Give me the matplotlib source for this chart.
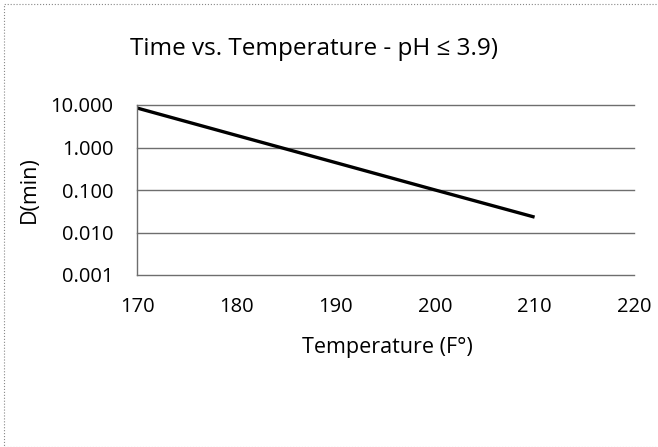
import numpy as np
import matplotlib.pyplot as plt
from matplotlib.ticker import FixedLocator, FixedFormatter
from matplotlib.patches import Rectangle

# data
temps = [170, 180, 190, 200, 210]
d_min = [8.5, 1.93, 0.44, 0.10, 0.023]
yticks = [0.001, 0.01, 0.1, 1, 10]
ylabels = ['0.001', '0.010', '0.100', '1.000', '10.000']
xticks = [170, 180, 190, 200, 210, 220]

plt.rcParams['font.family'] = ['Open Sans', 'DejaVu Sans']

W, H = 658, 447
fig = plt.figure(figsize=(W/100, H/100), dpi=100)
# axes box in pixels: left 137, right 634, top 105, bottom 275
ax = fig.add_axes([137/W, 1 - 275/H, 497/W, 170/H])

ax.plot(temps, d_min, color='black', lw=2.4, solid_capstyle='butt')
ax.set_yscale('log')
ax.set_xlim(170, 220)
ax.set_ylim(0.001, 10)
ax.yaxis.set_major_locator(FixedLocator(yticks))
ax.yaxis.set_major_formatter(FixedFormatter(ylabels))
ax.yaxis.set_minor_locator(FixedLocator([]))
ax.set_xticks(xticks)
ax.tick_params(length=0, labelsize=14.5)
ax.tick_params(axis='x', pad=16)
ax.tick_params(axis='y', pad=17)
ax.grid(axis='y', color='#6e6e6e', lw=1.0)
for gl in ax.get_ygridlines():
    gl.set_clip_on(False)
for s in ['top', 'right', 'bottom']:
    ax.spines[s].set_visible(False)
ax.spines['left'].set_color('#6e6e6e')
ax.spines['left'].set_linewidth(1.0)

ax.set_xlabel('Temperature (F°)', fontsize=15.5)
ax.xaxis.set_label_coords((387 - 137)/497, -(337 - 275)/170)
ax.set_ylabel('D(min)', fontsize=15.5)
ax.yaxis.set_label_coords((40 - 137)/497, 0.5)

fig.text(314/W, 1 - 55/H, 'Time vs. Temperature - pH ≤ 3.9)',
         ha='center', va='baseline', fontsize=17.5)

fig.patches.append(Rectangle((4/W, 0), 1, 1 - 4/H, transform=fig.transFigure,
                             fill=False, ec='#888888', lw=0.8, ls=':'))

fig.savefig('out.png', dpi=100)
